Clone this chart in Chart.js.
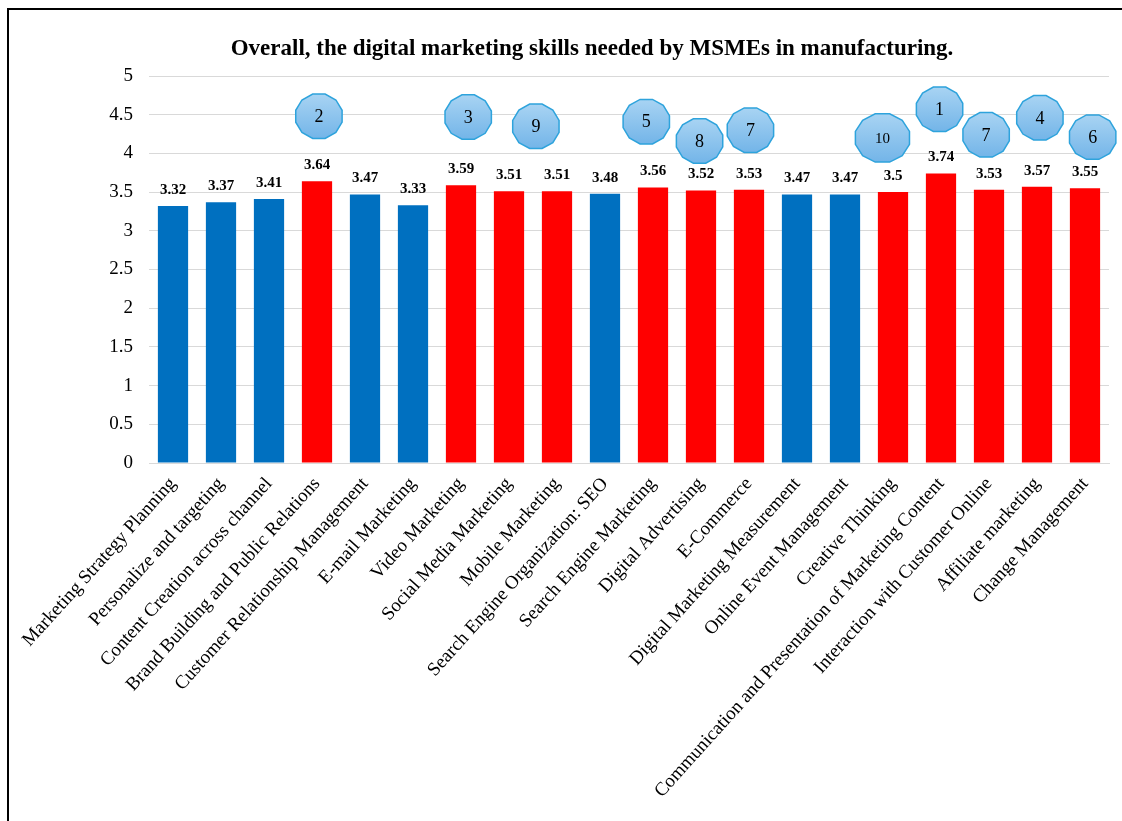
<!DOCTYPE html>
<html>
<head>
<meta charset="utf-8">
<script src="https://cdn.jsdelivr.net/npm/chart.js@4/dist/chart.umd.min.js"></script>
<style>
  body { margin: 0; background: #fff; overflow: hidden; }
  #frame { position: absolute; left: 7px; top: 8px; width: 1200px; height: 900px;
           border-left: 2px solid #000; border-top: 2px solid #000; }
  #wrap { position: absolute; left: 0; top: 0; width: 1122px; height: 821px; }
</style>
</head>
<body>
<div id="frame"></div>
<div id="wrap"><canvas id="myChart"></canvas></div>
<script>
// skills and mean scores
var skills = [
  "Marketing Strategy Planning",
  "Personalize and targeting",
  "Content Creation across channel",
  "Brand Building and Public Relations",
  "Customer Relationship Management",
  "E-mail Marketing",
  "Video Marketing",
  "Social Media Marketing",
  "Mobile Marketing",
  "Search Engine Organization: SEO",
  "Search Engine Marketing",
  "Digital Advertising",
  "E-Commerce",
  "Digital Marketing Measurement",
  "Online Event Management",
  "Creative Thinking",
  "Communication and Presentation of Marketing Content",
  "Interaction with Customer Online",
  "Affiliate marketing",
  "Change Management"
];
var scores = [3.32, 3.37, 3.41, 3.64, 3.47, 3.33, 3.59, 3.51, 3.51, 3.48,
              3.56, 3.52, 3.53, 3.47, 3.47, 3.5, 3.74, 3.53, 3.57, 3.55];
// 1 = highlighted (red), 0 = normal (blue)
var highlighted = [0, 0, 0, 1, 0, 0, 1, 1, 1, 0, 1, 1, 1, 0, 0, 1, 1, 1, 1, 1];
var yTicks = [0, 0.5, 1, 1.5, 2, 2.5, 3, 3.5, 4, 4.5, 5];

// rank badges: label, position on category axis, height on value axis
var badgeRank = ["2", "3", "9", "5", "8", "7", "10", "1", "7", "4", "6"];
var badgeAt   = [3.04, 6.15, 7.56, 9.86, 10.97, 12.03, 14.78, 15.97, 16.94, 18.06, 19.16];
var badgeLvl  = [4.48, 4.47, 4.35, 4.41, 4.16, 4.30, 4.20, 4.57, 4.24, 4.46, 4.21];

var titleText = "Overall, the digital marketing skills needed by MSMEs in manufacturing.";

var serif = "'Liberation Serif', 'Times New Roman', serif";

var barColors = highlighted.map(function (h) { return h ? "#ff0000" : "#0070c0"; });

// title, drawn a bit right of the canvas centre like the original
var chartTitle = {
  id: "chartTitle",
  afterDraw: function (chart) {
    var ctx = chart.ctx;
    ctx.save();
    ctx.font = "bold 23px " + serif;
    ctx.fillStyle = "#000";
    ctx.textAlign = "center";
    ctx.textBaseline = "middle";
    ctx.fillText(titleText, 592, 49);
    ctx.restore();
  }
};

// value labels above bars
var valueLabels = {
  id: "valueLabels",
  afterDatasetsDraw: function (chart) {
    var ctx = chart.ctx;
    var meta = chart.getDatasetMeta(0);
    ctx.save();
    ctx.font = "bold 15px " + serif;
    ctx.fillStyle = "#000";
    ctx.textAlign = "center";
    ctx.textBaseline = "middle";
    meta.data.forEach(function (bar, i) {
      ctx.fillText(String(scores[i]), bar.x, bar.y - 16);
    });
    ctx.restore();
  }
};

// octagon-ish rank badges
var rankBadges = {
  id: "rankBadges",
  afterDraw: function (chart) {
    var ctx = chart.ctx;
    var xs = chart.scales.x, ys = chart.scales.y;
    var step = xs.getPixelForValue(1) - xs.getPixelForValue(0);
    ctx.save();
    for (var i = 0; i < badgeRank.length; i++) {
      var cx = xs.getPixelForValue(0) + badgeAt[i] * step;
      var cy = ys.getPixelForValue(badgeLvl[i]);
      var wide = badgeRank[i].length > 1;
      var rx = wide ? 28 : 24, ry = wide ? 25 : 23;
      var n = 12;
      ctx.beginPath();
      for (var k = 0; k < n; k++) {
        var a = (k + 0.5) * 2 * Math.PI / n;
        var px = cx + rx * Math.cos(a), py = cy + ry * Math.sin(a);
        if (k === 0) ctx.moveTo(px, py); else ctx.lineTo(px, py);
      }
      ctx.closePath();
      var g = ctx.createLinearGradient(0, cy - ry, 0, cy + ry);
      g.addColorStop(0, "#a9d4f3");
      g.addColorStop(1, "#72b4e8");
      ctx.fillStyle = g;
      ctx.fill();
      ctx.lineWidth = 1.5;
      ctx.strokeStyle = "#2ea3dc";
      ctx.stroke();
      ctx.fillStyle = "#000";
      ctx.font = (wide ? "15px " : "18px ") + serif;
      ctx.textAlign = "center";
      ctx.textBaseline = "middle";
      ctx.fillText(badgeRank[i], cx, cy + 1);
    }
    ctx.restore();
  }
};

var chart = new Chart(document.getElementById("myChart"), {
  type: "bar",
  data: {
    labels: skills,
    datasets: [{
      data: scores,
      backgroundColor: barColors,
      borderWidth: 0,
      categoryPercentage: 1,
      barPercentage: 0.63
    }]
  },
  options: {
    responsive: true,
    maintainAspectRatio: false,
    animation: false,
    layout: { padding: { left: 0, right: 13, top: 76, bottom: 0 } },
    plugins: {
      legend: { display: false },
      tooltip: { enabled: false },
      title: { display: false }
    },
    scales: {
      x: {
        grid: { display: false },
        border: { display: true, color: "#d9d9d9" },
        ticks: {
          color: "#000",
          font: { family: serif, size: 19 },
          minRotation: 48,
          maxRotation: 48,
          autoSkip: false,
          padding: 2
        },
        afterFit: function (scale) { scale.height = 358; }
      },
      y: {
        min: 0,
        max: 5,
        afterBuildTicks: function (scale) {
          scale.ticks = yTicks.map(function (v) { return { value: v }; });
        },
        grid: { color: "#d9d9d9", drawTicks: false },
        border: { display: false },
        ticks: {
          color: "#000",
          font: { family: serif, size: 19 },
          padding: 16,
          callback: function (v) { return String(v); }
        },
        afterFit: function (scale) { scale.width = 149; }
      }
    }
  },
  plugins: [chartTitle, valueLabels, rankBadges]
});
</script>
</body>
</html>
